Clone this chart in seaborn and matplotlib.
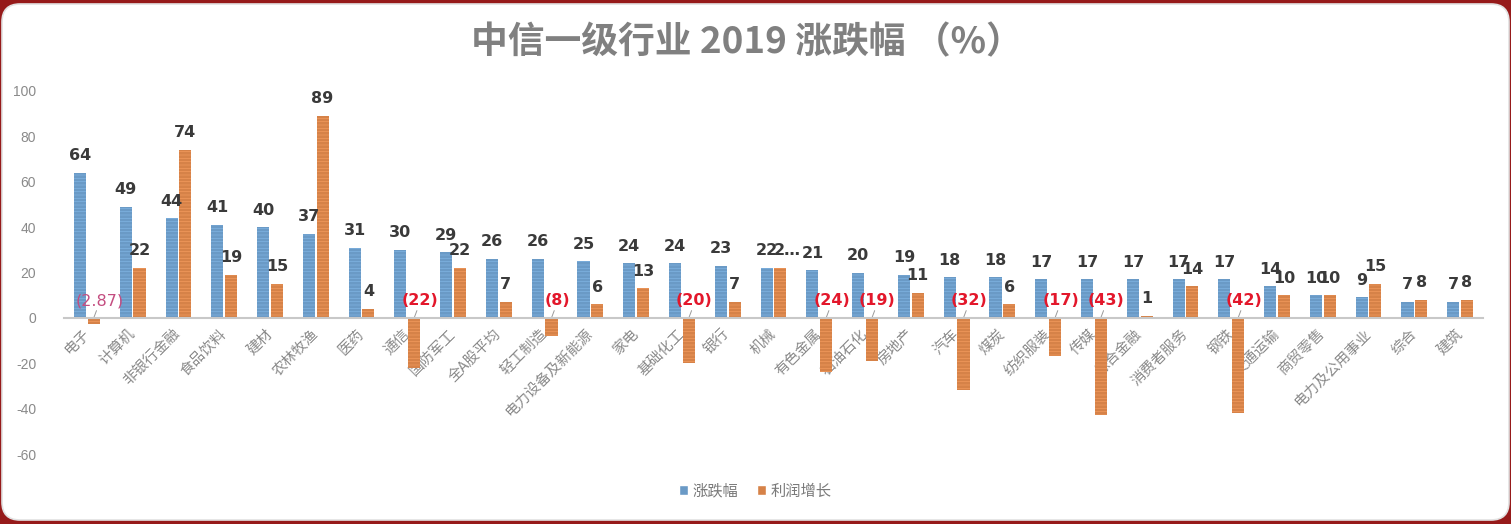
import numpy as np
import pandas as pd
import matplotlib
matplotlib.use("Agg")
import matplotlib.pyplot as plt
from matplotlib.patches import FancyBboxPatch
import seaborn as sns

# data
industries = ["电子", "计算机", "非银行金融", "食品饮料", "建材", "农林牧渔", "医药", "通信",
              "国防军工", "全A股平均", "轻工制造", "电力设备及新能源", "家电", "基础化工", "银行",
              "机械", "有色金属", "石油石化", "房地产", "汽车", "煤炭", "纺织服装", "传媒",
              "综合金融", "消费者服务", "钢铁", "交通运输", "商贸零售", "电力及公用事业", "综合", "建筑"]
price_change = [64, 49, 44, 41, 40, 37, 31, 30, 29, 26, 26, 25, 24, 24, 23, 22, 21, 20, 19,
                18, 18, 17, 17, 17, 17, 17, 14, 10, 9, 7, 7]
profit_growth = [-2.87, 22, 74, 19, 15, 89, 4, -22, 22, 7, -8, 6, 13, -20, 7, 22, -24, -19, 11,
                 -32, 6, -17, -43, 1, 14, -42, 10, 10, 15, 8, 8]
series_names = ["涨跌幅", "利润增长"]

blue = "#5b9bd5"
orange = "#ed7d31"

sns.set_theme(style="white")
plt.rcParams['font.family'] = ['Noto Sans CJK SC', 'DejaVu Sans']
plt.rcParams['axes.unicode_minus'] = False
plt.rcParams['hatch.linewidth'] = 0.5

df = pd.DataFrame({
    "行业": industries * 2,
    "系列": [series_names[0]] * len(industries) + [series_names[1]] * len(industries),
    "值": price_change + profit_growth,
})

fig = plt.figure(figsize=(15.11, 5.24), dpi=100)
fig.patch.set_facecolor("#961a1a")

# white rounded card behind everything
card = FancyBboxPatch((0.02, 0.04), 15.07, 5.16, boxstyle="round,pad=0,rounding_size=0.18",
                      transform=fig.dpi_scale_trans, facecolor="white", edgecolor="#e2e2e2",
                      linewidth=1.2, zorder=-10)
fig.patches.append(card)

ax = fig.add_axes([64 / 1511, 1 - 454 / 524, (1483 - 64) / 1511, (454 - 91) / 524])
ax.set_facecolor("none")
ax.set_zorder(5)

sns.barplot(data=df, x="行业", y="值", hue="系列", palette=[blue, orange],
            width=0.6, gap=0.12, errorbar=None, ax=ax)

# light stripe texture like the original
for cont, col in zip(ax.containers, ["#80b3e2", "#f29a5e"]):
    for bar in cont:
        bar.set_hatch("-----")
        bar.set_edgecolor(col)
        bar.set_linewidth(0)

ax.set_ylim(-60, 100)
ax.set_xlim(-0.5, len(industries) - 0.5)
ax.set_yticks(np.arange(-60, 101, 20))
ax.set_xlabel("")
ax.set_ylabel("")

for side in ["top", "right", "left"]:
    ax.spines[side].set_visible(False)
ax.spines["bottom"].set_position(("data", 0))
ax.spines["bottom"].set_color("#c8c8c8")
ax.spines["bottom"].set_linewidth(1.5)

ax.tick_params(axis="y", length=0, pad=20, labelsize=10, labelcolor="#8a8a8a")
ax.tick_params(axis="x", length=0, pad=10, labelsize=10.5, labelcolor="#8a8a8a")
for lab in ax.get_yticklabels():
    lab.set_fontfamily(["Liberation Sans", "DejaVu Sans"])
plt.setp(ax.get_xticklabels(), rotation=45, ha="right", va="center", rotation_mode="anchor")

# value labels
for k, (cont, vals) in enumerate(zip(ax.containers, [price_change, profit_growth])):
    for i, (bar, v) in enumerate(zip(cont, vals)):
        xc = bar.get_x() + bar.get_width() / 2
        if v >= 0:
            txt = f"{v:g}"
            dx = 0
            if k == 1 and industries[i] == "机械":
                txt = "2…"
                dx = 5
            ax.annotate(txt, (xc, v), xytext=(dx, 9), textcoords="offset points",
                        ha="center", va="baseline", fontsize=11.5, fontweight="bold",
                        color="#3a3a3a", family="DejaVu Sans")
        else:
            whole = float(v).is_integer()
            col = "#e3172b" if whole else "#c44d80"
            ax.annotate(f"({abs(v):g})", (xc + 0.12, 7.5), ha="center", va="center",
                        fontsize=11.5, fontweight="bold" if whole else "normal",
                        color=col, family="DejaVu Sans")
            ax.plot([xc + 0.06, xc], [3.2, 0], color="#9a9a9a", linewidth=0.7)

sns.move_legend(ax, "center", bbox_to_anchor=(0.5, 1 - 491 / 524),
                bbox_transform=fig.transFigure, ncol=2, frameon=False, title=None,
                fontsize=11, handlelength=0.6, handleheight=0.6, handletextpad=0.3,
                columnspacing=1.2)
for t in ax.get_legend().get_texts():
    t.set_color("#7a7a7a")

fig.text(0.494, 1 - 43 / 524, "中信一级行业 2019 涨跌幅 （%）", ha="center", va="center",
         fontsize=26.5, fontweight="bold", color="#808080")

fig.savefig("out.png", dpi=100, facecolor=fig.get_facecolor())
